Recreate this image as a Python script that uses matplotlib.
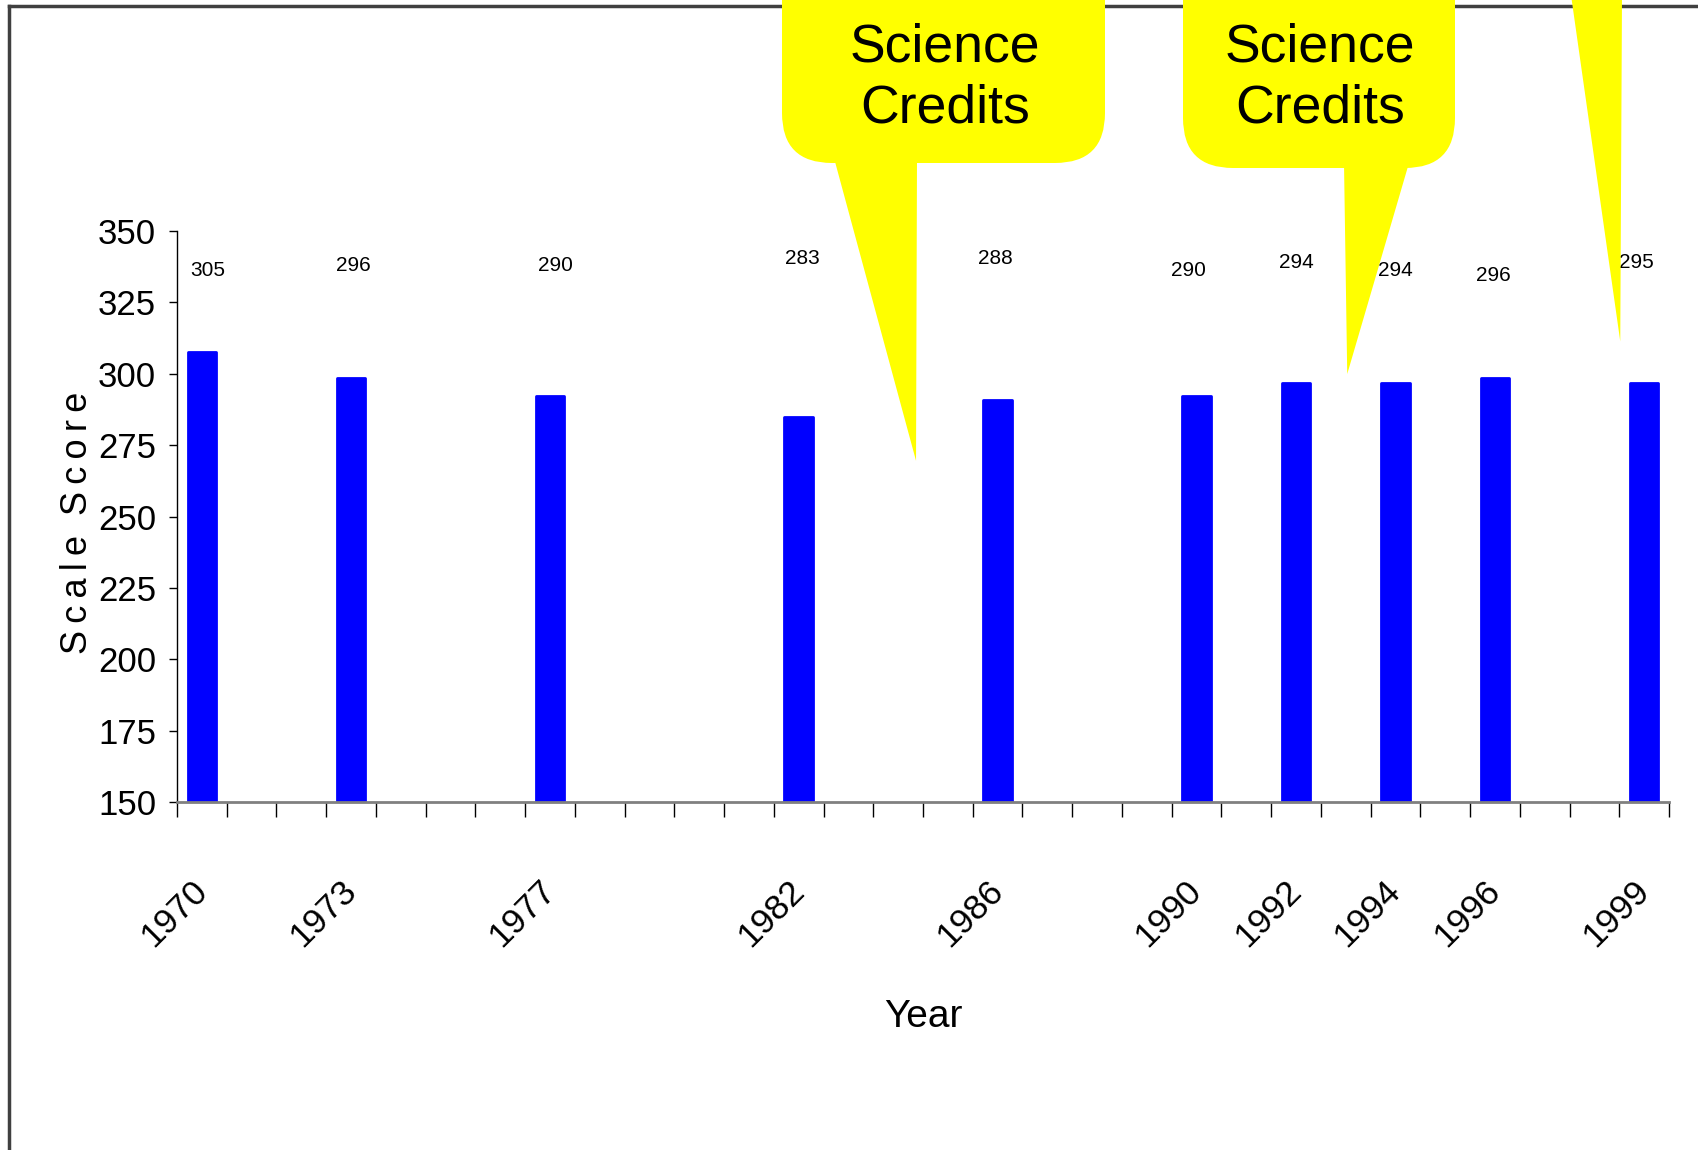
import numpy as np
import matplotlib
matplotlib.use("Agg")
import matplotlib.pyplot as plt
from matplotlib.patches import FancyBboxPatch, Polygon

# data
years = list(range(1970, 2000))
test_years = [1970, 1973, 1977, 1982, 1986, 1990, 1992, 1994, 1996, 1999]
scores = [305, 296, 290, 283, 288, 290, 294, 294, 296, 295]            # printed labels
bar_tops = [307.5, 298.4, 292.3, 284.7, 290.8, 292.3, 296.9, 296.9, 298.4, 296.9]  # bars as drawn
y_ticks = [150, 175, 200, 225, 250, 275, 300, 325, 350]

# where the data labels sit (they wander a bit in the original)
label_y = [336.0, 337.9, 337.9, 340.5, 340.5, 336.0, 339.0, 336.0, 334.4, 339.0]
label_dx = [0.11, 0.04, 0.11, 0.07, -0.04, -0.17, 0.0, 0.0, -0.04, -0.15]

fam = ['Liberation Sans', 'DejaVu Sans']

W, H = 1699, 1150
fig = plt.figure(figsize=(W / 100, H / 100), dpi=100)
ax = fig.add_axes([177 / W, 1 - 802 / H, (1669 - 177) / W, (802 - 231) / H])

xpos = [years.index(y) for y in test_years]
ax.bar(xpos, bar_tops, width=0.57, color='#0000FF', edgecolor='#0000FF',
       linewidth=2, joinstyle='round', zorder=2)

for i, x in enumerate(xpos):
    ax.text(x + label_dx[i], label_y[i], str(scores[i]), ha='center', va='center',
            fontsize=15, family=fam)

ax.set_xlim(-0.5, len(years) - 0.5)
ax.set_ylim(150, 350)
ax.set_yticks(y_ticks)
ax.set_yticklabels([str(v) for v in y_ticks], family=fam, fontsize=25)
ax.tick_params(axis='y', direction='out', length=6, width=1, pad=9, color='black')

ax.set_xticks(xpos)
ax.set_xticklabels([str(y) for y in test_years], rotation=45, ha='right', va='center',
                   rotation_mode='anchor', family=fam, fontsize=25.5)
ax.tick_params(axis='x', which='major', length=0, pad=60)
ax.set_xticks(np.arange(-0.5, len(years)), minor=True)
ax.tick_params(axis='x', which='minor', direction='out', length=11, width=1, color='black')

for s in ['top', 'right']:
    ax.spines[s].set_visible(False)
ax.spines['left'].set_color('black')
ax.spines['left'].set_linewidth(1)
ax.spines['bottom'].set_color('#808080')
ax.spines['bottom'].set_linewidth(2)

ax.set_xlabel('Year', family=fam, fontsize=28)
ax.xaxis.set_label_coords(0.5, -0.345)
ts = '\u2009'
ax.set_ylabel(ts.join('Scale') + '  ' + ts.join('Score'), family=fam, fontsize=26)
ax.yaxis.set_label_coords(-0.055, 0.489)

# overlay in pixel units for frame and callouts
ov = fig.add_axes([0, 0, 1, 1], zorder=5)
ov.set_xlim(0, W)
ov.set_ylim(H, 0)
ov.axis('off')
ov.patch.set_alpha(0)

ov.plot([9, 9], [6, H], color='#404040', lw=2.5, zorder=1)
ov.plot([9, W], [6, 6], color='#404040', lw=2.5, zorder=1)


def to_px(x, y):
    d = ax.transData.transform((x, y))
    return ov.transData.inverted().transform(d)


yellow = '#FFFF00'
callouts = [
    # box x0, x1, bottom, tail base left, right, tip (data), text x
    dict(x0=782, x1=1105, bot=163, tl=834, tr=917, tip=(14.36, 269.5), tx=945),
    dict(x0=1183, x1=1455, bot=168, tl=1344, tr=1409, tip=(23.03, 299.9), tx=1320),
]
for c in callouts:
    box = FancyBboxPatch((c['x0'], -100), c['x1'] - c['x0'], c['bot'] + 100,
                         boxstyle='round,pad=0,rounding_size=50',
                         fc=yellow, ec='none', zorder=3)
    ov.add_patch(box)
    tip = to_px(*c['tip'])
    ov.add_patch(Polygon([(c['tl'], c['bot'] - 5), (c['tr'], c['bot'] - 5), tuple(tip)],
                         closed=True, fc=yellow, ec='none', zorder=3))
    ov.text(c['tx'], 78, 'Science\nCredits', ha='center', va='center', fontsize=38.5,
            family=fam, linespacing=1.3, zorder=4)

tip3 = to_px(28.52, 311.3)
ov.add_patch(Polygon([(1571, -5), (1622, -5), tuple(tip3)], closed=True,
                     fc=yellow, ec='none', zorder=3))

fig.savefig('out.png', dpi=100)
